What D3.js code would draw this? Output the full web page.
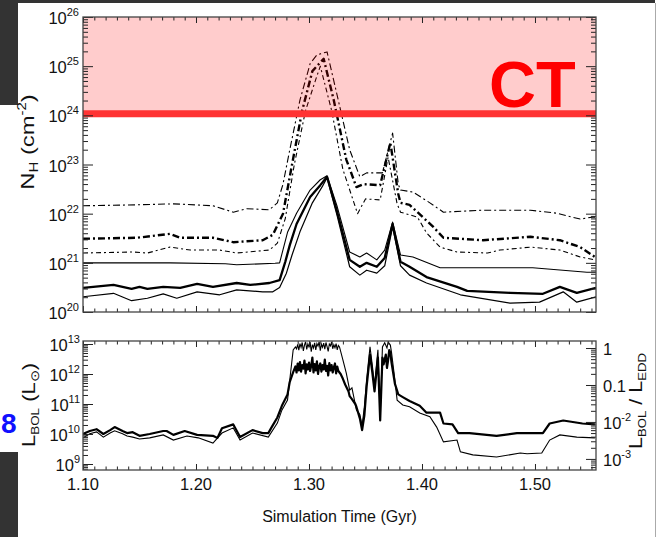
<!DOCTYPE html>
<html><head><meta charset="utf-8">
<script src="https://cdn.jsdelivr.net/npm/d3@7"></script>
<style>
body{margin:0;background:#fff}
svg{display:block}
text{font-family:"Liberation Sans",Arial,Helvetica,sans-serif;fill:#111}
</style>
</head><body>
<svg id="c" width="660" height="537"></svg>
<script>
// ---------------- DATA ----------------
// time axis (Gyr)
const xTickLabels = ["1.10","1.20","1.30","1.40","1.50"];
const xTickValues = [1.10,1.20,1.30,1.40,1.50];
// top panel: log10 N_H (cm^-2) vs time, six lines of sight
const nhSolidUpper = [[1.100,21.00],[1.177,21.00],[1.226,20.98],[1.236,20.96],[1.270,20.99],[1.274,21.00],[1.281,21.62],[1.289,22.01],[1.301,22.48],[1.310,22.69],[1.316,22.77],[1.325,22.14],[1.336,21.22],[1.345,21.12],[1.351,21.20],[1.360,21.06],[1.367,21.26],[1.374,21.83],[1.381,21.16],[1.392,21.12],[1.416,20.90],[1.498,20.90],[1.546,20.81],[1.554,20.81]];
const nhSolidThick = [[1.100,20.49],[1.127,20.55],[1.143,20.47],[1.150,20.51],[1.157,20.47],[1.171,20.51],[1.186,20.49],[1.201,20.57],[1.215,20.51],[1.236,20.59],[1.248,20.55],[1.265,20.59],[1.274,20.65],[1.279,21.02],[1.283,21.36],[1.289,21.79],[1.301,22.34],[1.310,22.58],[1.316,22.75],[1.325,22.03],[1.336,21.06],[1.345,20.92],[1.351,21.00],[1.360,20.92],[1.367,21.10],[1.374,21.79],[1.381,21.02],[1.389,20.92],[1.404,20.71],[1.431,20.51],[1.440,20.43],[1.478,20.39],[1.507,20.37],[1.522,20.51],[1.537,20.39],[1.554,20.49]];
const nhSolidLower = [[1.100,20.31],[1.127,20.38],[1.143,20.23],[1.157,20.28],[1.171,20.37],[1.183,20.28],[1.201,20.41],[1.221,20.35],[1.236,20.45],[1.259,20.41],[1.268,20.41],[1.274,20.50],[1.280,20.79],[1.285,21.16],[1.292,21.63],[1.303,22.22],[1.312,22.56],[1.316,22.73],[1.325,21.95],[1.336,20.92],[1.345,20.75],[1.351,20.85],[1.360,20.79],[1.367,20.94],[1.374,21.73],[1.381,20.94],[1.389,20.75],[1.404,20.59],[1.434,20.35],[1.478,20.18],[1.504,20.20],[1.525,20.41],[1.537,20.20],[1.554,20.31]];
const nhDashUpper = [[1.100,22.16],[1.148,22.18],[1.180,22.20],[1.215,22.16],[1.233,22.03],[1.245,22.10],[1.265,22.08],[1.272,22.22],[1.277,22.60],[1.283,23.30],[1.292,24.31],[1.301,25.05],[1.307,25.23],[1.316,25.29],[1.325,24.40],[1.336,23.30],[1.345,22.75],[1.351,22.83],[1.365,22.83],[1.374,23.64],[1.379,22.60],[1.381,22.48],[1.392,22.44],[1.407,22.22],[1.419,22.03],[1.454,22.07],[1.496,22.07],[1.519,22.01],[1.540,21.89],[1.551,21.93],[1.554,21.93]];
const nhDashThick = [[1.100,21.49],[1.148,21.51],[1.177,21.59],[1.186,21.51],[1.215,21.51],[1.233,21.42],[1.259,21.46],[1.268,21.57],[1.277,22.00],[1.285,23.00],[1.294,24.10],[1.303,24.90],[1.313,25.15],[1.322,24.30],[1.333,23.10],[1.342,22.54],[1.348,22.60],[1.363,22.58],[1.372,23.44],[1.379,22.40],[1.381,22.22],[1.389,22.18],[1.410,21.73],[1.419,21.51],[1.454,21.46],[1.496,21.53],[1.522,21.46],[1.540,21.32],[1.553,21.12]];
const nhDashLower = [[1.100,21.20],[1.144,21.22],[1.157,21.20],[1.177,21.32],[1.195,21.26],[1.221,21.26],[1.236,21.20],[1.265,21.26],[1.272,21.40],[1.279,21.90],[1.287,23.00],[1.297,24.10],[1.307,24.80],[1.310,25.00],[1.320,24.10],[1.330,22.90],[1.343,22.00],[1.350,22.30],[1.363,22.28],[1.370,23.15],[1.378,22.20],[1.381,22.03],[1.396,21.93],[1.404,21.61],[1.416,21.32],[1.431,21.22],[1.458,21.20],[1.469,21.26],[1.496,21.32],[1.522,21.26],[1.540,21.12],[1.553,21.06]];
// Compton-thick threshold
const ctThreshold = 1e24;
// bottom panel: log10 L_BOL (L_sun), thick line, left axis
const lbolThick = [[1.100,10.00],[1.106,10.10],[1.112,10.16],[1.118,10.00],[1.124,10.13],[1.128,10.23],[1.135,10.10],[1.139,10.03],[1.144,10.06],[1.150,9.94],[1.159,10.00],[1.171,10.10],[1.174,10.10],[1.180,9.97],[1.190,10.10],[1.201,9.97],[1.215,9.94],[1.219,9.87],[1.223,10.19],[1.233,10.32],[1.239,9.90],[1.250,10.13],[1.259,10.03],[1.264,10.03],[1.267,10.23],[1.272,10.55],[1.276,10.94],[1.281,11.32],[1.283,11.74],[1.286,12.06],
[1.288,12.25],[1.289,12.05],[1.290,12.35],[1.291,12.12],[1.292,12.40],[1.293,12.08],[1.294,12.30],[1.295,12.18],[1.296,12.45],[1.297,12.02],[1.298,12.32],[1.299,12.15],[1.300,12.38],[1.301,12.10],[1.302,12.28],[1.303,12.55],[1.304,12.05],[1.305,12.33],[1.306,12.12],[1.307,12.42],[1.308,12.00],[1.309,12.25],[1.310,12.35],[1.311,12.08],[1.312,12.30],[1.313,12.15],[1.314,12.48],[1.315,12.10],[1.316,12.27],[1.317,11.95],[1.318,12.36],[1.319,12.12],[1.320,12.30],[1.321,12.05],[1.322,12.22],[1.323,12.35],[1.324,12.02],[1.325,12.25],[1.326,12.10],
[1.328,12.00],[1.330,11.84],[1.332,11.65],[1.335,11.42],[1.336,11.26],[1.338,11.16],[1.341,11.00],[1.342,10.90],[1.345,10.52],[1.347,10.13],[1.349,10.61],[1.351,11.58],[1.354,12.65],[1.356,12.06],[1.358,11.42],[1.361,12.55],[1.363,10.45],[1.365,12.55],[1.366,12.32],[1.368,12.65],[1.369,12.20],[1.370,12.45],[1.371,12.80],[1.372,12.71],[1.373,12.39],[1.376,11.68],[1.379,11.32],[1.383,11.23],[1.389,11.10],[1.398,10.94],[1.404,10.71],[1.416,10.71],[1.419,10.35],[1.427,10.32],[1.432,10.03],[1.442,10.03],[1.466,9.94],[1.484,10.03],[1.507,10.03],[1.513,10.35],[1.525,10.45],[1.542,10.35],[1.553,10.32]];
// bottom panel: log10 L_BOL / L_EDD, thin line, right axis
const eddThin = [[1.100,-2.43],[1.106,-2.32],[1.112,-2.27],[1.118,-2.41],[1.124,-2.30],[1.128,-2.24],[1.135,-2.32],[1.139,-2.38],[1.144,-2.41],[1.150,-2.46],[1.159,-2.43],[1.171,-2.35],[1.180,-2.49],[1.192,-2.38],[1.202,-2.43],[1.215,-2.57],[1.223,-2.30],[1.233,-2.16],[1.239,-2.49],[1.250,-2.30],[1.264,-2.41],[1.272,-2.03],[1.276,-1.68],[1.281,-1.41],[1.283,-0.86],[1.286,-0.05],[1.288,0.03],
[1.289,-0.02],[1.290,0.10],[1.291,-0.06],[1.292,0.12],[1.293,0.02],[1.294,0.15],[1.295,-0.08],[1.296,0.08],[1.297,0.17],[1.298,-0.04],[1.299,0.11],[1.300,0.03],[1.301,0.16],[1.302,-0.10],[1.303,0.09],[1.304,0.00],[1.305,0.14],[1.306,-0.05],[1.307,0.12],[1.308,0.05],[1.309,0.17],[1.310,-0.07],[1.311,0.10],[1.312,0.02],[1.313,0.13],[1.314,-0.03],[1.315,0.15],[1.316,0.04],[1.317,-0.09],[1.318,0.11],[1.319,0.06],[1.320,0.16],[1.321,-0.02],[1.322,0.09],[1.323,0.01],[1.324,0.12],[1.325,-0.05],[1.326,0.07],[1.327,0.03],
[1.330,-0.32],[1.333,-0.68],[1.336,-1.14],[1.338,-1.08],[1.342,-1.68],[1.345,-1.80],[1.347,-2.10],[1.349,-1.60],[1.351,-0.86],[1.354,0.03],[1.356,-0.46],[1.358,-1.00],[1.361,-0.05],[1.363,-1.86],[1.365,0.03],[1.367,0.14],[1.369,0.00],[1.370,0.16],[1.372,0.08],[1.373,-0.11],[1.376,-0.86],[1.378,-1.41],[1.383,-1.54],[1.389,-1.59],[1.398,-1.76],[1.407,-1.86],[1.413,-2.14],[1.419,-2.54],[1.431,-2.49],[1.434,-2.81],[1.445,-2.89],[1.466,-2.95],[1.487,-2.84],[1.493,-2.86],[1.506,-2.84],[1.513,-2.49],[1.522,-2.35],[1.537,-2.41],[1.553,-2.43]];
// tick labels of log axes
const nhTickExps = [20,21,22,23,24,25,26];
const lbolTickExps = [9,10,11,12,13];
const eddTickValues = [1,0.1,0.01,0.001];
const eddTickLabels = [["1",""],["0.1",""],["10","-2"],["10","-3"]];

// ---------------- LAYOUT ----------------
const svg = d3.select("#c");
const L = 83, R = 596;
const topP = {t:17, b:312}, botP = {t:341, b:470};

// slide background pieces
svg.append("rect").attr("x",0).attr("y",0).attr("width",655).attr("height",3).attr("fill","#333");
svg.append("rect").attr("x",0).attr("y",0).attr("width",18).attr("height",105).attr("fill","#333");
svg.append("rect").attr("x",0).attr("y",452).attr("width",18).attr("height",85).attr("fill","#333");
svg.append("line").attr("x1",655.5).attr("x2",655.5).attr("y1",3).attr("y2",537).attr("stroke","#aaa");

const x = d3.scaleLinear().domain([1.10, 1.554]).range([L, R]);
const yTop = d3.scaleLog().domain([1e20, 1e26]).range([topP.b, topP.t]);
const yBot = d3.scaleLog().domain([Math.pow(10,8.8), Math.pow(10,13.1)]).range([botP.b, botP.t]);
const yEdd = d3.scaleLog().domain([Math.pow(10,-3.3), Math.pow(10,0.19)]).range([botP.b, botP.t]);

const defs = svg.append("defs");
defs.append("clipPath").attr("id","clipTop").append("rect").attr("x",L).attr("y",topP.t).attr("width",R-L).attr("height",topP.b-topP.t);
defs.append("clipPath").attr("id","clipBot").append("rect").attr("x",L).attr("y",botP.t).attr("width",R-L).attr("height",botP.b-botP.t);

// ---------- top panel lines ----------
const gTop = svg.append("g").attr("clip-path","url(#clipTop)");
const lineTop = d3.line().x(d=>x(d[0])).y(d=>yTop(Math.pow(10,d[1])));
const topSeries = [
  {d:nhSolidUpper, w:1.1, dash:null},
  {d:nhSolidThick, w:2.3, dash:null},
  {d:nhSolidLower, w:1.2, dash:null},
  {d:nhDashUpper, w:1.1, dash:"7,3,2,3"},
  {d:nhDashThick, w:2.4, dash:"7,3,2,3"},
  {d:nhDashLower, w:1.1, dash:"5,3,2,3"}
];
topSeries.forEach(s=>{
  gTop.append("path").attr("d",lineTop(s.d)).attr("fill","none").attr("stroke","#000")
    .attr("stroke-width",s.w).attr("stroke-dasharray",s.dash).attr("stroke-linejoin","round");
});
// Compton-thick region
gTop.append("rect").attr("x",L).attr("y",topP.t).attr("width",R-L)
  .attr("height",yTop(ctThreshold)-topP.t).attr("fill","rgba(255,0,0,0.2)");
gTop.append("line").attr("x1",L).attr("x2",R).attr("y1",yTop(ctThreshold)-1.5).attr("y2",yTop(ctThreshold)-1.5)
  .attr("stroke","#ff3333").attr("stroke-width",7);

// ---------- bottom panel lines ----------
const gBot = svg.append("g").attr("clip-path","url(#clipBot)");
gBot.append("path").attr("d",d3.line().x(d=>x(d[0])).y(d=>yEdd(Math.pow(10,d[1])))(eddThin))
  .attr("fill","none").attr("stroke","#000").attr("stroke-width",1.1);
gBot.append("path").attr("d",d3.line().x(d=>x(d[0])).y(d=>yBot(Math.pow(10,d[1])))(lbolThick))
  .attr("fill","none").attr("stroke","#000").attr("stroke-width",2.2).attr("stroke-linejoin","round");

// ---------- axes ----------
const isMajor = v => Math.abs(Math.log10(v) - Math.round(Math.log10(v))) < 1e-6;
function styleAxis(g){ g.select(".domain").remove(); g.selectAll("line").attr("stroke","#222").attr("stroke-width",1); }
function logAxes(scale, xl, xr, drawRight){
  const all = scale.ticks();
  const maj = all.filter(isMajor), min = all.filter(v=>!isMajor(v));
  svg.append("g").attr("transform",`translate(${xl},0)`).call(d3.axisLeft(scale).tickValues(min).tickSize(-5).tickFormat("")).call(styleAxis);
  svg.append("g").attr("transform",`translate(${xl},0)`).call(d3.axisLeft(scale).tickValues(maj).tickSize(-10).tickFormat("")).call(styleAxis);
  if (drawRight){
    svg.append("g").attr("transform",`translate(${xr},0)`).call(d3.axisRight(scale).tickValues(min).tickSize(-5).tickFormat("")).call(styleAxis);
    svg.append("g").attr("transform",`translate(${xr},0)`).call(d3.axisRight(scale).tickValues(maj).tickSize(-10).tickFormat("")).call(styleAxis);
  }
}
logAxes(yTop, L, R, true);
logAxes(yBot, L, R, false);
// right Eddington axis
(function(){
  const all = yEdd.ticks();
  const maj = all.filter(isMajor), min = all.filter(v=>!isMajor(v));
  svg.append("g").attr("transform",`translate(${R},0)`).call(d3.axisRight(yEdd).tickValues(min).tickSize(-5).tickFormat("")).call(styleAxis);
  svg.append("g").attr("transform",`translate(${R},0)`).call(d3.axisRight(yEdd).tickValues(maj).tickSize(-10).tickFormat("")).call(styleAxis);
})();
// time axes (all four horizontal edges)
const xMinor = d3.range(110,156).map(v=>v/100).filter(v=>xTickValues.every(m=>Math.abs(m-v)>1e-9));
[[topP.t,"top"],[topP.b,"bottom"],[botP.t,"top"],[botP.b,"bottom"]].forEach(([yy,side])=>{
  const ax = side==="top"?d3.axisTop:d3.axisBottom;
  svg.append("g").attr("transform",`translate(0,${yy})`).call(ax(x).tickValues(xMinor).tickSize(-3.5).tickFormat("")).call(styleAxis);
  svg.append("g").attr("transform",`translate(0,${yy})`).call(ax(x).tickValues(xTickValues).tickSize(-6).tickFormat("")).call(styleAxis);
});
// frames
[topP, botP].forEach(p=>{
  svg.append("rect").attr("x",L).attr("y",p.t).attr("width",R-L).attr("height",p.b-p.t)
    .attr("fill","none").attr("stroke","#444").attr("stroke-width",1.3);
});

// ---------- tick labels ----------
function powLabel(xp, yp, base, exp, anchor){
  const t = svg.append("text").attr("x",xp).attr("y",yp).attr("text-anchor",anchor).attr("font-size",16.5);
  t.append("tspan").text(base);
  if (exp) t.append("tspan").attr("dy",-8).attr("font-size",11).text(exp);
}
nhTickExps.forEach(e=>powLabel(79, yTop(Math.pow(10,e))+7, "10", String(e), "end"));
lbolTickExps.forEach(e=>powLabel(80, yBot(Math.pow(10,e))+7, "10", String(e), "end"));
eddTickValues.forEach((v,i)=>powLabel(603, yEdd(v)+7, eddTickLabels[i][0], eddTickLabels[i][1], "start"));
xTickValues.forEach((v,i)=>{
  svg.append("text").attr("x",x(v)).attr("y",490).attr("text-anchor","middle").attr("font-size",16.5).text(xTickLabels[i]);
});

// ---------- titles ----------
svg.append("text").attr("x",(L+R)/2).attr("y",522).attr("text-anchor","middle").attr("font-size",16).text("Simulation Time (Gyr)");

function vTitle(tx, ty, sx, parts){
  const t = svg.append("text").attr("transform",`translate(${tx},${ty}) rotate(-90) scale(${sx},1)`)
    .attr("text-anchor","middle").attr("font-size",17);
  parts.forEach(p=>{
    const s = t.append("tspan").text(p[0]).attr("font-size",p[1]);
    if (p[2]) s.attr("dy",p[2]);
  });
}
vTitle(34, 142, 1.25, [["N",19],["H",12,4],[" (cm",19,-4],["-2",12,-8],[")",19,8]]);
vTitle(35, 405, 1.22, [["L",18],["BOL",11,4],[" (L",18,-4],["\u2299",12,4],[")",18,-4]]);
vTitle(642, 401, 1.2, [["L",18],["BOL",11,4],[" / L",18,-4],["EDD",11,4]]);

// annotations
svg.append("text").attr("x",489).attr("y",107).attr("font-size",65).attr("font-weight","bold")
  .style("fill","#ff0000").text("CT");
svg.append("text").attr("x",1).attr("y",433).attr("font-size",28).attr("font-weight","bold")
  .style("fill","#1010ff").text("8");
</script>
</body></html>
